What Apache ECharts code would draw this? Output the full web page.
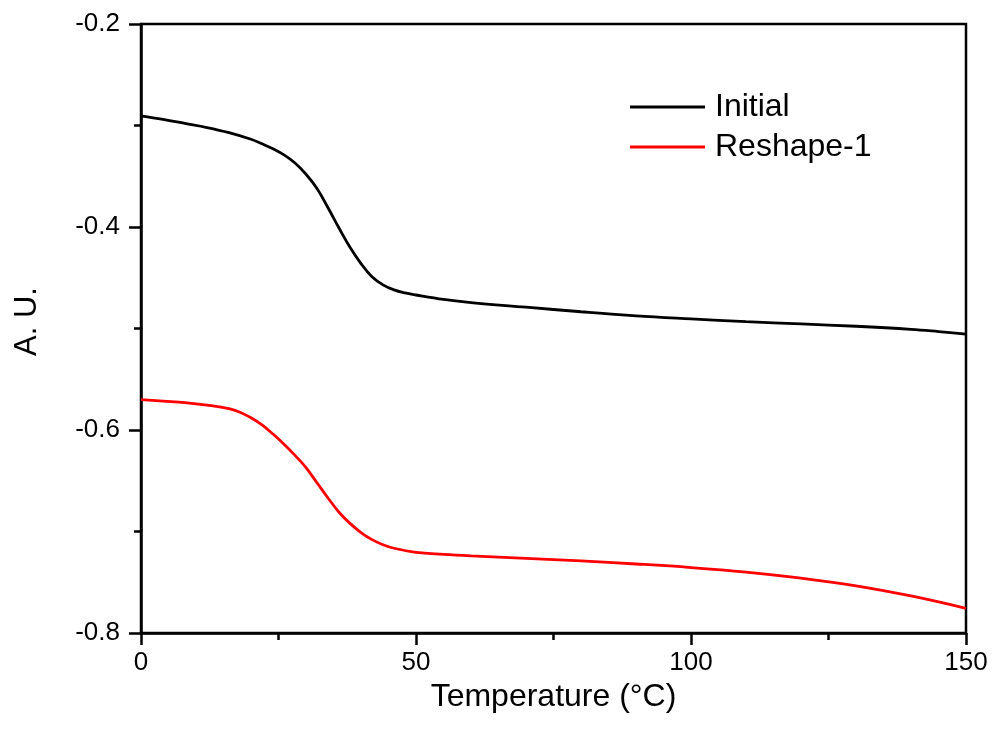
<!DOCTYPE html>
<html>
<head>
<meta charset="utf-8">
<script src="https://cdn.jsdelivr.net/npm/echarts@6/dist/echarts.min.js"></script>
<style>
  html, body { margin: 0; padding: 0; background: #fff; }
  #chart { width: 993px; height: 731px; }
</style>
</head>
<body>
<div id="chart"></div>
<script>
// Temperature (°C) sample points and signal values for each run
const initialTemps = [0, 4, 8, 12, 16, 20, 22, 24, 26, 28, 30, 32, 34, 36, 38, 40, 42, 44, 46, 48, 50, 55, 60, 70, 80, 90, 100, 110, 120, 130, 140, 145, 150];
const initialValues = [-0.2905, -0.294, -0.298, -0.302, -0.307, -0.3135, -0.318, -0.323, -0.329, -0.337, -0.348, -0.362, -0.381, -0.401, -0.420, -0.436, -0.449, -0.457, -0.462, -0.465, -0.467, -0.4713, -0.4745, -0.479, -0.4835, -0.4875, -0.4905, -0.4932, -0.4955, -0.4978, -0.5008, -0.503, -0.5055];

const reshapeTemps = [0, 4, 8, 12, 16, 18, 20, 22, 24, 26, 28, 30, 32, 34, 36, 38, 40, 42, 44, 46, 50, 55, 60, 70, 80, 90, 100, 110, 120, 130, 140, 150];
const reshapeValues = [-0.570, -0.5715, -0.573, -0.5755, -0.579, -0.5825, -0.588, -0.595, -0.604, -0.614, -0.625, -0.637, -0.652, -0.667, -0.681, -0.692, -0.701, -0.708, -0.713, -0.7165, -0.7205, -0.7225, -0.724, -0.7265, -0.729, -0.732, -0.7355, -0.740, -0.746, -0.7535, -0.7635, -0.7757];

const seriesNames = ['Initial', 'Reshape-1'];
const seriesColors = ['#000000', '#ff0000'];

const xRange = { min: 0, max: 150, interval: 50 };
const yRange = { min: -0.8, max: -0.2, interval: 0.2 };

const FONT = "'Liberation Sans', Arial, sans-serif";

function pairs(xs, ys) {
  return xs.map((x, i) => [x, ys[i]]);
}

const chart = echarts.init(document.getElementById('chart'), null, { renderer: 'canvas' });

const axisCommon = {
  axisLine: { show: true, onZero: false, lineStyle: { color: '#000', width: 2.5 } },
  axisTick: { show: true, inside: false, length: 12, lineStyle: { color: '#000', width: 2.5 } },
  minorTick: { show: true, splitNumber: 2, length: 7, lineStyle: { color: '#000', width: 2.5 } },
  splitLine: { show: false },
  minorSplitLine: { show: false }
};

chart.setOption({
  animation: false,
  backgroundColor: '#fff',
  textStyle: { fontFamily: FONT },
  grid: {
    left: 141, right: 27, top: 24, bottom: 98,
    show: true, borderColor: '#000', borderWidth: 2.5, backgroundColor: 'transparent'
  },
  legend: {
    orient: 'vertical',
    left: 625, top: 86,
    icon: 'rect',
    itemWidth: 75, itemHeight: 3,
    itemGap: 8,
    textStyle: { fontFamily: FONT, fontSize: 32, color: '#000', lineHeight: 32, padding: [0, 0, 0, 5] },
    data: seriesNames
  },
  xAxis: Object.assign({
    type: 'value',
    min: xRange.min, max: xRange.max, interval: xRange.interval,
    name: 'Temperature (°C)',
    nameLocation: 'middle',
    nameGap: 36,
    nameTextStyle: { fontFamily: FONT, fontSize: 32, color: '#000' },
    axisLabel: { margin: 17, fontFamily: FONT, fontSize: 26, color: '#000' }
  }, axisCommon),
  yAxis: Object.assign({
    type: 'value',
    min: yRange.min, max: yRange.max, interval: yRange.interval,
    name: 'A. U.',
    nameLocation: 'middle',
    nameGap: 98,
    nameTextStyle: { fontFamily: FONT, fontSize: 31, color: '#000', padding: [0, 0, 0, 14] },
    axisLabel: {
      margin: 21, fontFamily: FONT, fontSize: 26, color: '#000',
      formatter: v => v.toFixed(1)
    }
  }, axisCommon),
  series: [
    {
      name: seriesNames[0],
      type: 'line',
      data: pairs(initialTemps, initialValues),
      smooth: 0.4,
      symbol: 'none',
      lineStyle: { color: seriesColors[0], width: 2.8 },
      itemStyle: { color: seriesColors[0] }
    },
    {
      name: seriesNames[1],
      type: 'line',
      data: pairs(reshapeTemps, reshapeValues),
      smooth: 0.4,
      symbol: 'none',
      lineStyle: { color: seriesColors[1], width: 2.8 },
      itemStyle: { color: seriesColors[1] }
    }
  ]
});
</script>
</body>
</html>
